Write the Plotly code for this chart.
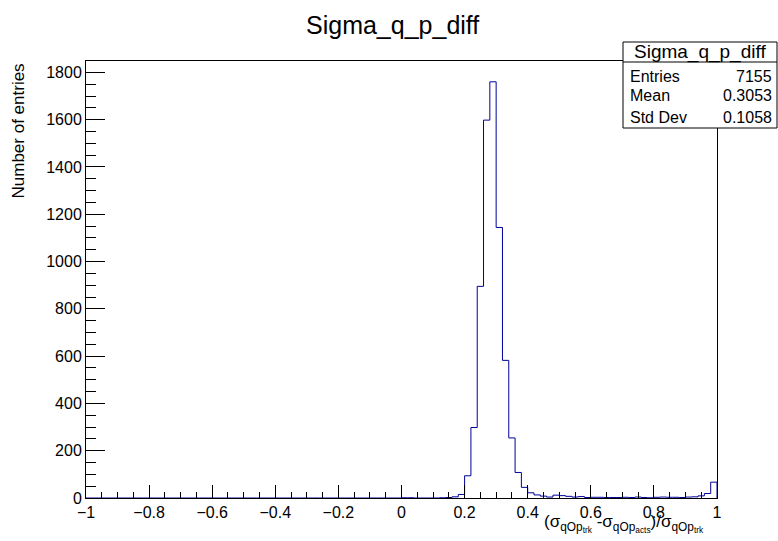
import numpy as np
import plotly.graph_objects as go

# ---- data ----
x_min, x_max, n_bins = -1.0, 1.0, 100
neg_counts = [0] * 50  # bins from -1 to 0 are empty
pos_counts = [1, 1, 0, 0, 0, 0, 1, 2, 5, 15,
              94, 298, 895, 1598, 1760, 1144, 582, 254, 108, 45,
              22, 13, 8, 4, 12, 10, 7, 4, 6, 2,
              3, 3, 2, 2, 2, 3, 2, 4, 2, 1,
              3, 4, 3, 3, 2, 4, 5, 9, 19, 67]
counts = neg_counts + pos_counts
hist_title = "Sigma_q_p_diff"
stats_labels = ["Entries", "Mean", "Std Dev"]
stats_values = ["7155", "0.3053", "0.1058"]
x_tick_vals = [-1, -0.8, -0.6, -0.4, -0.2, 0, 0.2, 0.4, 0.6, 0.8, 1]
y_tick_vals = [0, 200, 400, 600, 800, 1000, 1200, 1400, 1600, 1800]

edges = np.linspace(x_min, x_max, n_bins + 1)
xs = list(edges) + [x_max]
ys = counts + [counts[-1], 0]

FONT = "Liberation Sans, Arial, Helvetica, sans-serif"
W, H = 778, 541
L, R, T, B = 86, 61, 61, 43
pw, ph = W - L - R, H - T - B

def px(xp):
    return (xp - L) / pw

def py(yp):
    return (H - B - yp) / ph

fig = go.Figure()
fig.add_trace(go.Scatter(x=xs, y=ys, mode="lines", line=dict(shape="hv", color="#000099", width=1),
                         hoverinfo="skip", showlegend=False))

ymax = 1.05 * max(counts)

fig.update_layout(
    width=W, height=H,
    margin=dict(l=L, r=R, t=T, b=B, pad=0),
    paper_bgcolor="white", plot_bgcolor="white",
    font=dict(family=FONT, color="black", size=16),
    xaxis=dict(range=[x_min, x_max], showgrid=False, zeroline=False,
               showline=True, linecolor="black", linewidth=1, mirror=True,
               ticks="inside", ticklen=13, tickcolor="black", tickwidth=1,
               tickvals=x_tick_vals, ticktext=[("\u2212" if v < 0 else "") + ("%g" % abs(v)) for v in x_tick_vals],
               tickfont=dict(size=16),
               minor=dict(dtick=0.05, tick0=-1, ticks="inside", ticklen=6.5, tickcolor="black", showgrid=False)),
    yaxis=dict(range=[0, ymax], showgrid=False, zeroline=False,
               showline=True, linecolor="black", linewidth=1, mirror=True,
               ticks="inside", ticklen=19, tickcolor="black", tickwidth=1,
               tickvals=y_tick_vals, tickfont=dict(size=16),
               minor=dict(dtick=50, tick0=0, ticks="inside", ticklen=9.5, tickcolor="black", showgrid=False)),
)

annotations = []
# main title
annotations.append(dict(text=hist_title, xref="paper", yref="paper", x=px(392), y=py(25),
                        xanchor="center", yanchor="middle", showarrow=False, font=dict(size=25)))
# x-axis title
sub_trk = "σ<sub>qOp<sub>trk</sub></sub>"
sub_acts = "σ<sub>qOp<sub>acts</sub></sub>"
x_title = "(" + sub_trk + " -" + sub_acts + ")/" + sub_trk
annotations.append(dict(text=x_title,
                        xref="paper", yref="paper", x=px(706), y=py(510), xanchor="right", yanchor="top",
                        showarrow=False, font=dict(size=17)))
# y-axis title
annotations.append(dict(text="Number of entries", xref="paper", yref="paper", x=px(18), y=py(62),
                        xanchor="center", yanchor="top", textangle=-90, showarrow=False, font=dict(size=17)))

# stats box
bx0, bx1, by0, bsep, by1 = 623, 777, 42, 62, 128
shapes = [
    dict(type="rect", xref="paper", yref="paper", x0=px(bx0), x1=px(bx1), y0=py(by1), y1=py(by0),
         line=dict(color="black", width=1), fillcolor="white", layer="above"),
    dict(type="line", xref="paper", yref="paper", x0=px(bx0), x1=px(bx1), y0=py(bsep), y1=py(bsep),
         line=dict(color="black", width=1), layer="above"),
]
annotations.append(dict(text=hist_title, xref="paper", yref="paper", x=px(700), y=py(52),
                        xanchor="center", yanchor="middle", showarrow=False, font=dict(size=19)))
row_y = [76, 96, 117]
for lab, val, yy in zip(stats_labels, stats_values, row_y):
    annotations.append(dict(text=lab, xref="paper", yref="paper", x=px(628), y=py(yy),
                            xanchor="left", yanchor="middle", showarrow=False, font=dict(size=16)))
    annotations.append(dict(text=val, xref="paper", yref="paper", x=px(774), y=py(yy),
                            xanchor="right", yanchor="middle", showarrow=False, font=dict(size=16)))

fig.update_layout(annotations=annotations, shapes=shapes)
fig.write_html("out.html", config={"displayModeBar": False, "staticPlot": True})

# remove default page margin so the figure sits at the window's top-left corner
with open("out.html", "r", encoding="utf-8") as f:
    html = f.read()
html = html.replace("<head>", "<head><style>html,body{margin:0;padding:0;overflow:hidden;}</style>", 1)
with open("out.html", "w", encoding="utf-8") as f:
    f.write(html)
